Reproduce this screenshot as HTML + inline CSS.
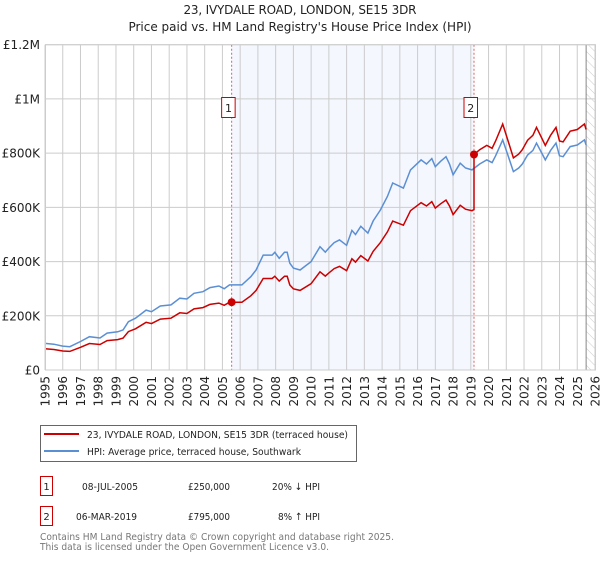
<!DOCTYPE html>
<html><head><meta charset="utf-8"><style>
body{margin:0;background:#fff;font-family:"DejaVu Sans","Liberation Sans",sans-serif;}
svg text{font-family:"DejaVu Sans","Liberation Sans",sans-serif;}
</style></head><body>
<svg id="c" width="600" height="560" viewBox="0 0 600 560" xmlns="http://www.w3.org/2000/svg">
<defs>
<pattern id="hatch" width="6" height="6" patternUnits="userSpaceOnUse" patternTransform="rotate(-45)">
<line x1="0" y1="0" x2="0" y2="6" stroke="#ccc" stroke-width="1"/>
</pattern>
</defs>
<text x="300" y="14" text-anchor="middle" font-size="12" fill="#222" textLength="233">23, IVYDALE ROAD, LONDON, SE15 3DR</text>
<text x="300" y="31" text-anchor="middle" font-size="12" fill="#222">Price paid vs. HM Land Registry's House Price Index (HPI)</text>
<g id="plot"></g>
<g>
<rect x="40.5" y="425.5" width="316" height="36" fill="#fff" stroke="#666"/>
<line x1="44" y1="434" x2="79" y2="434" stroke="#cc0000" stroke-width="2"/>
<text x="87" y="438" font-size="10" fill="#222" textLength="261" lengthAdjust="spacingAndGlyphs">23, IVYDALE ROAD, LONDON, SE15 3DR (terraced house)</text>
<line x1="44" y1="451" x2="79" y2="451" stroke="#5b8fd4" stroke-width="2"/>
<text x="87" y="455" font-size="10" fill="#222" textLength="214" lengthAdjust="spacingAndGlyphs">HPI: Average price, terraced house, Southwark</text>
</g>
<g>
<rect x="40.5" y="476.5" width="12" height="19" fill="#fff" stroke="#cc0000"/>
<text x="46.5" y="490" text-anchor="middle" font-size="10" fill="#222">1</text>
<text x="82" y="490" font-size="10" fill="#222" textLength="56" lengthAdjust="spacingAndGlyphs">08-JUL-2005</text>
<text x="188" y="490" font-size="10" fill="#222" textLength="42" lengthAdjust="spacingAndGlyphs">£250,000</text>
<text x="272" y="490" font-size="10" fill="#222" textLength="48" lengthAdjust="spacingAndGlyphs">20% ↓ HPI</text>
<rect x="40.5" y="506.5" width="12" height="19" fill="#fff" stroke="#cc0000"/>
<text x="46.5" y="520" text-anchor="middle" font-size="10" fill="#222">2</text>
<text x="76" y="520" font-size="10" fill="#222" textLength="61" lengthAdjust="spacingAndGlyphs">06-MAR-2019</text>
<text x="188" y="520" font-size="10" fill="#222" textLength="42" lengthAdjust="spacingAndGlyphs">£795,000</text>
<text x="278" y="520" font-size="10" fill="#222" textLength="42" lengthAdjust="spacingAndGlyphs">8% ↑ HPI</text>
</g>
<text x="40" y="540" font-size="10" fill="#777" textLength="354" lengthAdjust="spacingAndGlyphs">Contains HM Land Registry data © Crown copyright and database right 2025.</text>
<text x="40" y="550" font-size="10" fill="#777" textLength="289" lengthAdjust="spacingAndGlyphs">This data is licensed under the Open Government Licence v3.0.</text>
</svg>
<script>
const hpiYears=[1995.0,1995.5,1996.0,1996.4,1997.0,1997.5,1998.1,1998.5,1999.1,1999.4,1999.7,2000.1,2000.7,2001.0,2001.5,2002.1,2002.6,2003.0,2003.4,2003.9,2004.3,2004.8,2005.1,2005.4,2006.1,2006.6,2006.9,2007.3,2007.8,2007.95,2008.2,2008.5,2008.65,2008.8,2009.0,2009.38,2010.0,2010.5,2010.8,2011.0,2011.3,2011.6,2012.0,2012.3,2012.5,2012.8,2013.2,2013.5,2013.9,2014.3,2014.6,2015.2,2015.6,2016.2,2016.5,2016.8,2017.0,2017.3,2017.6,2017.8,2018.0,2018.4,2018.7,2019.07,2019.5,2019.9,2020.2,2020.4,2020.8,2021.1,2021.4,2021.7,2021.9,2022.2,2022.5,2022.7,2023.0,2023.2,2023.5,2023.8,2024.0,2024.2,2024.6,2025.0,2025.4,2025.5];
const hpiValues=[98,95,88,86,105,123,118,136,141,148,178,191,221,215,236,240,265,262,283,289,304,310,300,314,314,344,369,424,424,434,412,434,434,394,376,369,400,455,435,450,470,480,460,515,500,530,505,550,590,640,690,671,738,775,760,780,750,770,787,760,720,763,745,738,760,775,765,790,849,790,732,745,760,793,810,837,800,775,810,837,790,787,824,830,849,830];
const saleYears=[2005.52,2019.18];
const salePrices=[250,795];
const yTicks=[0,200,400,600,800,1000,1200];
const yTickLabels=["£0","£200K","£400K","£600K","£800K","£1M","£1.2M"];
const xTicks=[1995,1996,1997,1998,1999,2000,2001,2002,2003,2004,2005,2006,2007,2008,2009,2010,2011,2012,2013,2014,2015,2016,2017,2018,2019,2020,2021,2022,2023,2024,2025,2026];
const dataEnd=2025.5;

const L=45,R=595,T=44.7,B=370;
const x=y=>L+(y-1995)/(2026-1995)*(R-L);
const yS=v=>B-v/1200*(B-T);
const NS="http://www.w3.org/2000/svg";
const g=document.getElementById('plot');
function mk(t,a,p){const e=document.createElementNS(NS,t);for(const k in a)e.setAttribute(k,a[k]);(p||g).appendChild(e);return e;}
function hpiAt(t){for(let i=0;i<hpiYears.length-1;i++){if(t>=hpiYears[i]&&t<=hpiYears[i+1]){const f=(t-hpiYears[i])/(hpiYears[i+1]-hpiYears[i]);return hpiValues[i]+f*(hpiValues[i+1]-hpiValues[i]);}}return hpiValues[hpiValues.length-1];}

let e=mk('rect',{x:x(saleYears[0]),y:T,width:x(saleYears[1])-x(saleYears[0]),height:B-T,fill:'#f4f7fe'});


e=mk('rect',{x:x(dataEnd),y:T,width:R-x(dataEnd),height:B-T,fill:'url(#hatch)'});


xTicks.forEach(t=>{const l=mk('line',{x1:x(t),x2:x(t),y1:T,y2:B,stroke:'#ccc','stroke-width':1});


const tx=mk('text',{x:0,y:0,'font-size':12,fill:'#222','text-anchor':'end',transform:`translate(${x(t)+4.5},376) rotate(-90)`});tx.textContent=t;

});
yTicks.forEach((v,i)=>{const l=mk('line',{x1:L,x2:R,y1:yS(v),y2:yS(v),stroke:'#ccc','stroke-width':1});


const tx=mk('text',{x:40,y:yS(v)+4.5,'font-size':12,fill:'#222','text-anchor':'end'});tx.textContent=yTickLabels[i];

});
e=mk('line',{x1:x(dataEnd),x2:x(dataEnd),y1:T,y2:B,stroke:'#888','stroke-width':1});


saleYears.forEach((s,i)=>{const l=mk('line',{x1:x(s),x2:x(s),y1:T,y2:B,stroke:'#e06060','stroke-width':1,'stroke-dasharray':'2,2'});

});
let d=hpiYears.map((t,i)=>(i?'L':'M')+x(t).toFixed(1)+','+yS(hpiValues[i]).toFixed(1)).join('');
e=mk('path',{d:d,fill:'none',stroke:'#5b8fd4','stroke-width':1.5});


const r1=salePrices[0]/hpiAt(saleYears[0]),r2=salePrices[1]/hpiAt(saleYears[1]);
let pts=[];
hpiYears.forEach((t,i)=>{if(t<saleYears[1])pts.push([t,hpiValues[i]*r1]);});
pts.push([saleYears[1],hpiAt(saleYears[1])*r1]);pts.push([saleYears[1],salePrices[1]]);
hpiYears.forEach((t,i)=>{if(t>saleYears[1])pts.push([t,hpiValues[i]*r2]);});
d=pts.map((p,i)=>(i?'L':'M')+x(p[0]).toFixed(1)+','+yS(p[1]).toFixed(1)).join('');
e=mk('path',{d:d,fill:'none',stroke:'#cc0000','stroke-width':1.5});


saleYears.forEach((s,i)=>{const c=mk('circle',{cx:x(s),cy:yS(salePrices[i]),r:4,fill:'#cc0000'});


const b=mk('rect',{x:x(s)-10,y:97.5,width:13.5,height:20,fill:'#fff',stroke:'#cc0000'});


const tx=mk('text',{x:x(s)-3.2,y:112,'font-size':11,fill:'#222','text-anchor':'middle'});tx.textContent=i+1;

});
e=mk('rect',{x:L+.5,y:T,width:R-L,height:B-T,fill:'none',stroke:'#ccc'});


</script>
</body></html>
